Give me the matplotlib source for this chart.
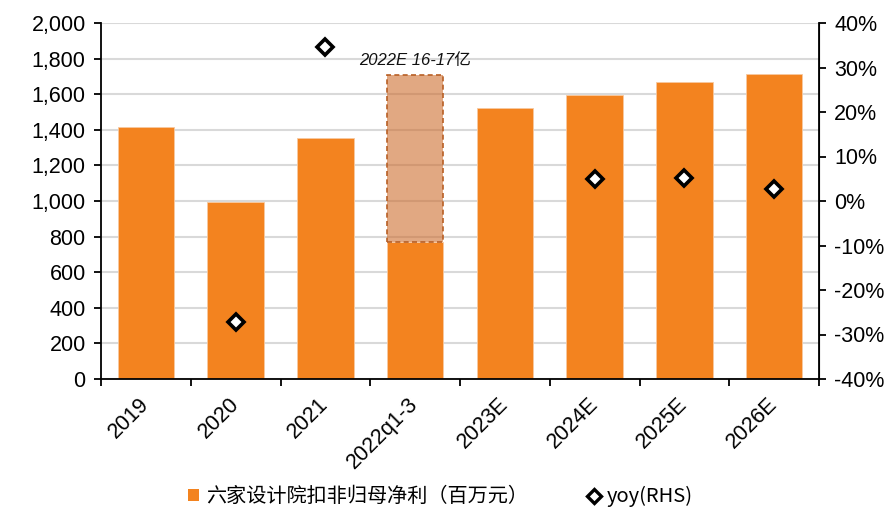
import matplotlib
matplotlib.use("Agg")
import matplotlib.pyplot as plt
from matplotlib.patches import Patch
from matplotlib.lines import Line2D
from matplotlib.ticker import FuncFormatter, FixedLocator
import numpy as np

plt.rcParams['font.family'] = ['Liberation Sans', 'Noto Sans CJK SC', 'DejaVu Sans']

# Data
categories = ["2019", "2020", "2021", "2022q1-3", "2023E", "2024E", "2025E", "2026E"]
net_profit = [1418, 997, 1353, 770, 1522, 1593, 1671, 1714]   # 百万元
est2022_high = 1710                                             # 2022E 上限
yoy_idx = [1, 2, 5, 6, 7]
yoy_vals = [-27.2, 34.6, 4.9, 5.2, 2.7]                         # %

bar_color = "#F3831F"
grid_color = "#D9D9D9"

fig = plt.figure(figsize=(8.93, 5.07), dpi=100)
ax = fig.add_axes([101/893, 1-379/507, (819-101)/893, (379-23)/507])
ax2 = ax.twinx()

x = np.arange(len(categories))
ax.bar(x, net_profit, width=0.63, color=bar_color, edgecolor="#F7C9A0",
       linewidth=0.6, zorder=2)

# 2022E estimate range box, stacked on the q1-3 bar
ax.bar(x[3], est2022_high - net_profit[3], bottom=net_profit[3], width=0.63,
       facecolor=(205/255, 110/255, 47/255, 0.6), edgecolor="#B85F25",
       linestyle=(0, (3, 2)), linewidth=1.2, zorder=3)
ax.text(x[3], est2022_high + 40, "2022E 16-17亿", ha="center", va="bottom",
        fontsize=12, style="italic",
        family=["Liberation Sans", "Noto Sans CJK SC"], color="#111111", zorder=4)

# Left axis
ax.set_xlim(-0.5, len(categories) - 0.5)
ax.set_ylim(0, 2000)
ax.yaxis.set_major_locator(FixedLocator(np.arange(0, 2001, 200)))
ax.yaxis.set_major_formatter(FuncFormatter(lambda v, p: f"{int(v):,}"))
ax.grid(axis="y", color=grid_color, linewidth=1.5, zorder=0)
ax.set_axisbelow(True)

# Category labels at centers, tick marks at boundaries
ax.set_xticks(x)
ax.set_xticklabels(categories, rotation=45, ha="right", va="center",
                   rotation_mode="anchor")
ax.set_xticks(np.arange(-0.5, len(categories), 1), minor=True)
ax.tick_params(axis="x", which="major", length=0, pad=16, labelsize=15.5)
ax.tick_params(axis="x", which="minor", length=5, width=1.3, direction="out")
ax.tick_params(axis="y", length=5, width=1.3, direction="out", labelsize=15.5, pad=6)

for s in ["top"]:
    ax.spines[s].set_visible(False)
    ax2.spines[s].set_visible(False)
for sp in [ax.spines["left"], ax.spines["bottom"], ax2.spines["right"]]:
    sp.set_linewidth(1.3)
ax2.spines["left"].set_visible(False)
ax2.spines["bottom"].set_visible(False)

# Right axis: yoy
ax2.set_ylim(-40, 40)
ax2.yaxis.set_major_locator(FixedLocator(np.arange(-40, 41, 10)))
ax2.yaxis.set_major_formatter(FuncFormatter(lambda v, p: f"{int(round(v))}%"))
ax2.tick_params(axis="y", length=5, width=1.3, direction="out", labelsize=15.5, pad=6)
ax2.plot(x[yoy_idx], yoy_vals, linestyle="none", marker="D", markersize=8,
         markerfacecolor="white", markeredgecolor="black", markeredgewidth=2.6,
         zorder=5)

# Legend
handles = [
    Patch(facecolor=bar_color, edgecolor="none"),
    Line2D([], [], linestyle="none", marker="D", markersize=7,
           markerfacecolor="white", markeredgecolor="black", markeredgewidth=2.4),
]
labels = ["六家设计院扣非归母净利（百万元）", "yoy(RHS)"]
fig.legend(handles, labels, loc="center", bbox_to_anchor=(0.493, 0.02),
           ncol=2, frameon=False, handlelength=0.55,
           handleheight=0.55, handletextpad=0.35, columnspacing=3.0,
           prop={"family": ["Noto Sans CJK SC", "DejaVu Sans"], "size": 14.5})

fig.savefig("out.png", dpi=100)
